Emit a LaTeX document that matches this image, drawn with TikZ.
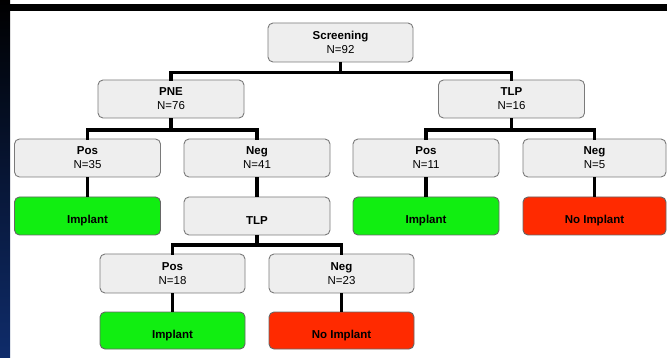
\documentclass[tikz,border=0pt]{standalone}
\usepackage{fontspec}
\setmainfont{Liberation Sans}
\definecolor{boxgray}{HTML}{EEEEEE}
\definecolor{edgegray}{HTML}{7A7A7A}
\definecolor{okgreen}{HTML}{11EE11}
\definecolor{nored}{HTML}{FF2A00}
\definecolor{stripblue}{HTML}{0F2C6B}
\newcommand{\lowtext}[1]{\raisebox{-5pt}[\height][\depth]{\textbf{#1}}}
\begin{document}
\begin{tikzpicture}[x=1pt,y=-1pt,
  box/.style={draw=edgegray,line width=0.9pt,rounded corners=5pt,fill=boxgray,
    minimum width=146pt,minimum height=38pt,inner sep=0pt,align=center,
    font=\fontsize{11.5}{14}\selectfont},
  gbox/.style={box,fill=okgreen,draw=black!60},
  rbox/.style={box,fill=nored,draw=black!60},
  conn/.style={line width=3.2pt,black}]
\useasboundingbox (0,0) rectangle (667,358);
\fill[white] (0,0) rectangle (667,358);
\fill[black] (10,4) rectangle (667,11);
\shade[top color=black,bottom color=stripblue] (0,0) rectangle (10,358);
% nodes
\node[box,minimum width=145pt,minimum height=39pt] (scr) at (340.5,42.5) {\textbf{Screening}\\N=92};
\node[box] (pne) at (171,99) {\textbf{PNE}\\N=76};
\node[box] (tlpa) at (511.5,99) {\textbf{TLP}\\N=16};
\node[box] (pos35) at (87.5,158) {\textbf{Pos}\\N=35};
\node[box] (neg41) at (257,158) {\textbf{Neg}\\N=41};
\node[box] (pos11) at (426,158) {\textbf{Pos}\\N=11};
\node[box,minimum width=143pt] (neg5) at (594.5,158) {\textbf{Neg}\\N=5};
\node[gbox] (impa) at (87.5,216) {\lowtext{Implant}};
\node[box] (tlpb) at (257,216) {\lowtext{TLP}};
\node[gbox] (impb) at (426,216) {\lowtext{Implant}};
\node[rbox,minimum width=143pt] (noimpa) at (594.5,216) {\lowtext{No Implant}};
\node[box,minimum width=145pt,minimum height=39pt] (pos18) at (172.5,273.5) {\textbf{Pos}\\N=18};
\node[box,minimum width=145pt,minimum height=39pt] (neg23) at (341.5,273.5) {\textbf{Neg}\\N=23};
\node[gbox,minimum width=145pt,minimum height=37pt] (impc) at (172.5,330.5) {\lowtext{Implant}};
\node[rbox,minimum width=145pt,minimum height=37pt] (noimpb) at (341.5,330.5) {\lowtext{No Implant}};
% junction coordinates
\coordinate (j1) at (340.5,72.5);
\coordinate (j2) at (171,130);
\coordinate (j3) at (511.5,130);
\coordinate (j4) at (257,245);
% connectors
\draw[conn] (scr.south) -- (j1);
\draw[conn,line cap=rect] (j1) -| (pne.north);
\draw[conn,line cap=rect] (j1) -| (tlpa.north);
\draw[conn] (pne.south) -- (j2);
\draw[conn,line cap=rect] (j2) -| (pos35.north);
\draw[conn,line cap=rect] (j2) -| (neg41.north);
\draw[conn] (tlpa.south) -- (j3);
\draw[conn,line cap=rect] (j3) -| (pos11.north);
\draw[conn,line cap=rect] (j3) -| (neg5.north);
\draw[conn] (pos35.south) -- (impa.north);
\draw[conn] (neg41.south) -- (tlpb.north);
\draw[conn] (pos11.south) -- (impb.north);
\draw[conn] (neg5.south) -- (noimpa.north);
\draw[conn] (tlpb.south) -- (j4);
\draw[conn,line cap=rect] (j4) -| (pos18.north);
\draw[conn,line cap=rect] (j4) -| (neg23.north);
\draw[conn] (pos18.south) -- (impc.north);
\draw[conn] (neg23.south) -- (noimpb.north);
\end{tikzpicture}
\end{document}
